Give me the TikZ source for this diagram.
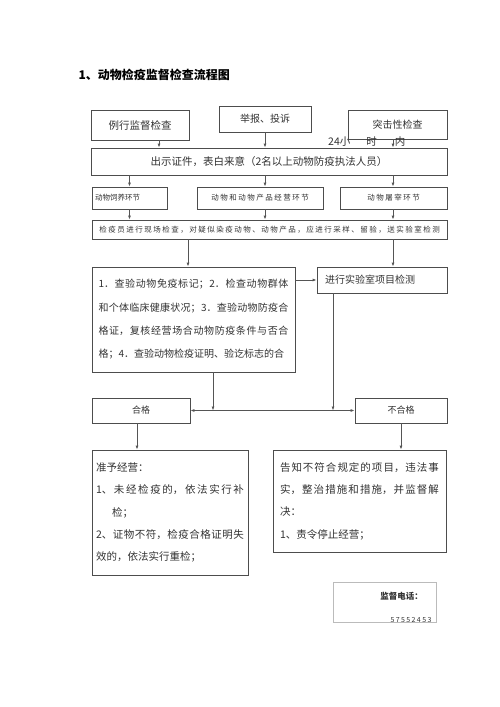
\documentclass[tikz,border=0pt]{standalone}
\usepackage{fontspec}
\setmainfont{Noto Sans CJK SC}
\newfontfamily\spacedcjk[LetterSpace=20]{Noto Sans CJK SC}
\usetikzlibrary{arrows.meta}
\XeTeXlinebreaklocale "zh"
\XeTeXlinebreakskip=0pt plus 4pt
\definecolor{framegray}{HTML}{4D4D4D}
\definecolor{linegray}{HTML}{555555}
\definecolor{inkgray}{HTML}{333333}
\definecolor{palegray}{HTML}{BBBBBB}
\tikzset{
	flowbox/.style={draw=framegray, line width=0.8pt, inner sep=0pt, text=inkgray, font=\fontsize{10}{12}\selectfont},
	smallbox/.style={flowbox, font=\fontsize{7.5}{9}\spacedcjk},
	flowline/.style={draw=linegray, line width=0.8pt, -{Latex[length=4pt,width=3pt]}},
	flowboth/.style={draw=linegray, line width=0.8pt, {Latex[length=4pt,width=3pt]}-{Latex[length=4pt,width=3pt]}},
}
\begin{document}
\begin{tikzpicture}[x=1pt,y=-1pt]
		\useasboundingbox[fill=white] (0,0) rectangle (500,707);
		\node[anchor=west, font=\fontsize{12}{14}\selectfont\bfseries] (title) at (75,75) {1、动物检疫监督检查流程图};

		\node[flowbox, minimum width=98pt, minimum height=30pt, font=\fontsize{10.5}{12}\selectfont] (routine) at (140,125) {例行监督检查};
		\node[flowbox, minimum width=92pt, minimum height=26pt] (report) at (265,119) {举报、投诉};
		\node[flowbox, minimum width=99pt, minimum height=29pt] (sudden) at (397.5,124.5) {突击性检查};
		\node[anchor=west, text=inkgray, font=\fontsize{10.5}{12}\selectfont, inner sep=0pt] (hours) at (328,142) {24小\hspace{16pt}时\hspace{18pt}内};
		\node[flowbox, minimum width=356pt, minimum height=27pt, font=\fontsize{10.5}{12}\selectfont] (show) at (269,161.5) {出示证件，表白来意（2名以上动物防疫执法人员）};

		\node[smallbox, minimum width=75pt, minimum height=22pt, text width=69pt, inner xsep=3pt, align=left] (feed) at (129.5,198) {动物饲养环节};
		\node[smallbox, minimum width=126pt, minimum height=22pt] (trade) at (260,198) {动物和动物产品经营环节};
		\node[smallbox, minimum width=107pt, minimum height=22pt] (slaughter) at (393.5,198) {动物屠宰环节};
		\node[smallbox, minimum width=355pt, minimum height=19pt] (inspect) at (269.5,229.5) {检疫员进行现场检查，对疑似染疫动物、动物产品，应进行采样、留验，送实验室检测};

		\node[flowbox, minimum width=203pt, minimum height=105pt, text width=190pt, inner xsep=6.5pt, align=justify, font=\fontsize{10}{23.3}\selectfont] (checks) at (193.5,319.5) {1．查验动物免疫标记；2．检查动物群体\linebreak 和个体临床健康状况；3．查验动物防疫合\linebreak 格证，复核经营场合动物防疫条件与否合\linebreak 格；4．查验动物检疫证明、验讫标志的合};
		\node[flowbox, minimum width=130pt, minimum height=26pt, text width=114pt, inner xsep=8pt, align=left] (lab) at (382,280) {进行实验室项目检测};

		\node[flowbox, minimum width=98pt, minimum height=25pt, font=\fontsize{9}{10}\selectfont] (pass) at (141,410.5) {合格};
		\node[flowbox, minimum width=92pt, minimum height=25pt, font=\fontsize{9}{10}\selectfont] (fail) at (401,410.5) {不合格};

		\node[flowbox, minimum width=156pt, minimum height=125pt, text width=148pt, inner xsep=4pt, align=justify, font=\fontsize{10.5}{22.4}\selectfont] (passbox) at (170,512.5) {\parindent=0pt 准予经营：\par
			\hangindent=16pt\hangafter=1 1、未经检疫的，依法实行补\linebreak 检；\par
			\hangindent=16pt\hangafter=1 2、证物不符，检疫合格证明失\linebreak 效的，依法实行重检；};
		\node[flowbox, minimum width=173pt, minimum height=102pt, text width=159pt, inner xsep=7pt, align=justify, font=\fontsize{10.5}{22.4}\selectfont] (failbox) at (359.5,501) {\parindent=0pt 告知不符合规定的项目，违法事\linebreak 实，整治措施和措施，并监督解\linebreak 决：\par 1、责令停止经营；};

		\node[flowbox, draw=palegray, minimum width=103pt, minimum height=40pt] (hotline) at (384.5,602) {};
		\node[anchor=east, inner sep=0pt, text=inkgray, font=\fontsize{8.5}{10}\selectfont\bfseries] (hotlinelabel) at (423,596) {监督电话：};
		\begin{scope}
			\clip (hotline.north west) rectangle ([yshift=1pt]hotline.south east);
			\node[anchor=north, inner sep=0pt, text=inkgray, font=\fontsize{7}{8}\spacedcjk] (hotlinenumber) at (411,617.5) {57552453};
		\end{scope}

		\coordinate (c1) at (159,0);
		\coordinate (c2) at (265,0);
		\coordinate (c3) at (393,0);
		\coordinate (c5) at (188,0);
		\coordinate (c6) at (213,0);
		\coordinate (c7) at (333,0);
		\coordinate (c8) at (137,0);

		\draw[flowline] (routine.south -| c1) -- (show.north -| c1);
		\draw[flowline] (report.south) -- (show.north -| report);
		\draw[flowline] (sudden.south -| c3) -- (show.north -| c3);

		\draw[flowline] (show.south -| feed) -- (feed.north);
		\draw[flowline] (show.south -| c2) -- (trade.north -| c2);
		\draw[flowline] (show.south -| c3) -- (slaughter.north -| c3);

		\draw[flowline] (feed.south) -- (inspect.north -| feed);
		\draw[flowline] (trade.south -| c2) -- (inspect.north -| c2);
		\draw[flowline] (slaughter.south -| c3) -- (inspect.north -| c3);

		\draw[flowline] (inspect.south -| c5) -- (checks.north -| c5);
		\draw[flowline] (inspect.south -| c3) -- (lab.north -| c3);
		\draw[flowline] (checks.east |- lab) -- (lab.west);

		\draw[flowline] (checks.south -| c6) -- (pass -| c6);
		\draw[flowline] (lab.south -| c7) -- (pass -| c7);
		\draw[flowboth] (pass.east) -- (fail.west);

		\draw[flowline] (pass.south -| c8) -- (passbox.north -| c8);
		\draw[flowline] (fail.south) -- (failbox.north -| fail);
	\end{tikzpicture}
\end{document}
